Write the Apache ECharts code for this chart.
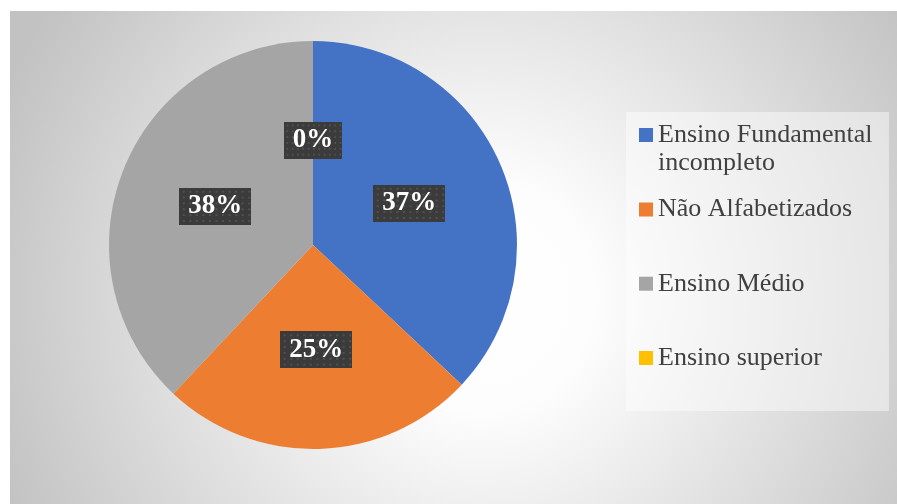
<!DOCTYPE html>
<html>
<head>
<meta charset="utf-8">
<style>
  html, body { margin: 0; padding: 0; background: #ffffff; }
  #chart { width: 897px; height: 504px; }
</style>
<script src="https://cdn.jsdelivr.net/npm/echarts@6/dist/echarts.min.js"></script>
</head>
<body>
<div id="chart"></div>
<script>
// Escolaridade dos participantes (%)
const categories = ['Ensino Fundamental\nincompleto', 'Não Alfabetizados', 'Ensino Médio', 'Ensino superior'];
const values = [37, 25, 38, 0];
const colors = ['#4472c4', '#ed7d31', '#a5a5a5', '#ffc000'];

// dotted dark texture used behind the percentage labels
function labelTexture() {
  const c = document.createElement('canvas');
  c.width = 66; c.height = 38;
  const g = c.getContext('2d');
  g.fillStyle = '#3b3b3b';
  g.fillRect(0, 0, c.width, c.height);
  g.fillStyle = '#505050';
  for (let y = 3; y < c.height; y += 6) {
    for (let x = 3; x < c.width; x += 6) {
      g.fillRect(x, y, 2, 2);
    }
  }
  return c;
}

const chart = echarts.init(document.getElementById('chart'));

// icon centre of each legend entry; a two-line entry keeps its icon on the first line
const legendCenters = [135, 209.5, 283.7, 358];
const legends = categories.map((name, i) => {
  const twoLines = name.indexOf('\n') >= 0;
  return {
    orient: 'vertical',
    left: 639,
    top: twoLines ? legendCenters[i] - 42 : legendCenters[i] - 14,
    padding: 0,
    itemWidth: 14,
    itemHeight: 14,
    itemGap: 0,
    selectedMode: false,
    data: [{ name: name, icon: 'rect' }],
    formatter: twoLines ? (n) => ' \n' + n : (n) => n,
    textStyle: {
      fontFamily: 'Liberation Serif',
      fontSize: 26,
      lineHeight: 28,
      color: '#404040'
    }
  };
});

chart.setOption({
  animation: false,
  color: colors,
  graphic: [
    {
      type: 'rect',
      z: -10,
      shape: { x: 10, y: 11, width: 887, height: 493 },
      style: {
        fill: new echarts.graphic.RadialGradient(0.53, 0.58, 1.05, [
          { offset: 0, color: '#ffffff' },
          { offset: 0.22, color: '#fdfdfd' },
          { offset: 1, color: '#c2c2c2' }
        ])
      },
      silent: true
    },
    {
      type: 'rect',
      z: -5,
      shape: { x: 626, y: 112, width: 263, height: 299 },
      style: { fill: 'rgba(255,255,255,0.45)' },
      silent: true
    }
  ],
  legend: legends,
  series: [{
    type: 'pie',
    center: [313, 245],
    radius: 204,
    startAngle: 90,
    clockwise: true,
    avoidLabelOverlap: false,
    emphasis: { disabled: true },
    itemStyle: { borderWidth: 0 },
    label: {
      show: true,
      position: 'inside',
      formatter: '{c}%',
      fontFamily: 'Liberation Serif',
      fontWeight: 'bold',
      fontSize: 27,
      lineHeight: 29,
      color: '#ffffff',
      padding: [4, 9, 4, 9],
      backgroundColor: { image: labelTexture() },
      shadowColor: 'rgba(0,0,0,0.55)',
      shadowBlur: 7,
      shadowOffsetX: 4,
      shadowOffsetY: 4
    },
    labelLine: { show: false },
    data: categories.map((name, i) => ({ name: name, value: values[i] }))
  }]
});
</script>
</body>
</html>
